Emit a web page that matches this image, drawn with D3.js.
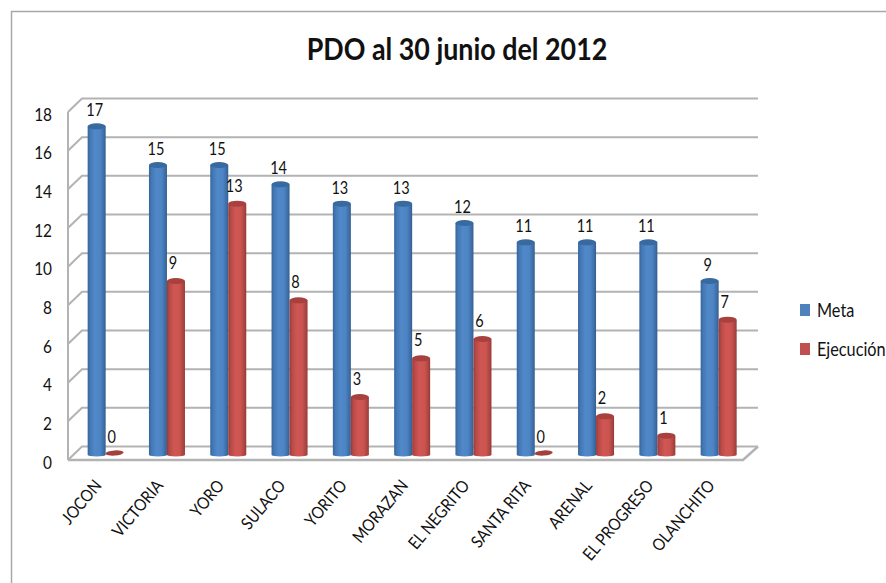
<!DOCTYPE html>
<html><head><meta charset="utf-8">
<script src="https://cdn.jsdelivr.net/npm/d3@7"></script>
<style>html,body{margin:0;padding:0;background:#fff;overflow:hidden}svg{display:block}text{font-family:Lato,"Open Sans",sans-serif;fill:#111}</style>
</head><body><svg id="c" width="886" height="583"></svg>
<script>
const titleText = "PDO al 30 junio del 2012";
const categories = ["JOCON","VICTORIA","YORO","SULACO","YORITO","MORAZAN","EL NEGRITO","SANTA RITA","ARENAL","EL PROGRESO","OLANCHITO"];
const meta = [17,15,15,14,13,13,12,11,11,11,9];
const ejecucion = [0,9,13,8,3,5,6,0,2,1,7];
const yTicks = [0,2,4,6,8,10,12,14,16,18];
const seriesNames = ["Meta","Ejecución"];
const seriesColors = ["#4f81bd","#c0504d"];

const svg = d3.select("#c");
const depthX = 14, depthY = 13.5, barW = 18, barInset = 5, narrow = 0.88;
const x = d3.scaleBand().domain(categories).range([75, 749.3]);
const y = d3.scaleLinear().domain([0,18]).range([460,112]);
const defs = svg.append("defs");
function grad(id, stops){
  const g = defs.append("linearGradient").attr("id",id);
  stops.forEach(s=>g.append("stop").attr("offset",s[0]).attr("stop-color",s[1]));
}
grad("gb",[[0,"#34659d"],[.14,"#4478b4"],[.4,"#5188c9"],[.7,"#4d84c4"],[.92,"#3c6ba2"],[1,"#315b8c"]]);
grad("gr",[[0,"#96393a"],[.14,"#b84a47"],[.4,"#cf5653"],[.7,"#cb5451"],[.92,"#a84340"],[1,"#923633"]]);

// narrow text, as Calibri is narrower than Lato
function label(g,px,py,str,size,anchor,opts={}){
  const rot = opts.rotate ? ` rotate(${opts.rotate})` : "";
  return g.append("text")
    .attr("transform",`translate(${px},${py})${rot} scale(${opts.sx||narrow},1)`)
    .attr("text-anchor",anchor).attr("font-size",size)
    .attr("font-weight",opts.weight||400).text(str);
}

// frame
svg.append("path").attr("d","M11.5,583V11.5H886").attr("fill","none").attr("stroke","#a8a8a8").attr("stroke-width",1.5);

// walls
const grid = svg.append("g").attr("fill","none").attr("stroke","#b3b3b3").attr("stroke-width",2);
const X0 = 68, X1 = 743;
yTicks.forEach(t=>{
  const yy=y(t);
  grid.append("path").attr("d",`M${X0},${yy}L${X0+depthX},${yy-depthY}H${X1+depthX+1}`);
});
grid.append("path").attr("d",`M${X0},${y(0)}V${y(18)}`);
grid.append("path").attr("d",`M${X0},${y(0)}H${X1}L${X1+depthX+1},${y(0)-depthY}`).attr("stroke-width",2.5);

// y labels
const tickG = svg.append("g");
yTicks.forEach(t=>label(tickG,52,y(t)+8.5,t,17.5,"end"));

// bars
function cyl(g,cx0,v,fill,dark,top){
  const base=y(0)-barInset, rx=barW/2, ry=3;
  const yt = base-(y(0)-y(v));
  if(v===0){
    g.append("ellipse").attr("transform",`translate(${cx0+rx},${base-2}) rotate(-4)`)
      .attr("rx",rx).attr("ry",2.6).attr("fill",dark);
    return;
  }
  g.append("path").attr("d",`M${cx0},${yt}V${base}A${rx},1.5 0 0 0 ${cx0+barW},${base}V${yt}Z`).attr("fill",`url(#${fill})`);
  g.append("ellipse").attr("cx",cx0+rx).attr("cy",yt).attr("rx",rx).attr("ry",ry).attr("fill",top);
}
const bars = svg.append("g");
const labels = svg.append("g");
categories.forEach((c,i)=>{
  const left=x(c)+x.bandwidth()/2-barW;
  cyl(bars,left,meta[i],"gb","#2f5788","#38699f");
  cyl(bars,left+barW,ejecucion[i],"gr","#a33f3c","#a8403e");
  label(labels,left+barW/2-2,y(meta[i])-barInset-10,meta[i],16.5,"middle");
  label(labels,left+barW*1.5-3,y(ejecucion[i])-barInset-12,ejecucion[i],16.5,"middle");
});

// category labels
const catG = svg.append("g");
categories.forEach(c=>label(catG,x(c)+x.bandwidth()/2-3,486,c,17,"end",{rotate:-50}));

// title
label(svg,457,60,titleText,30,"middle",{weight:700,sx:0.895});

// legend
seriesNames.forEach((n,i)=>{
  const yy=310+i*39;
  svg.append("rect").attr("x",800).attr("y",yy-6).attr("width",10).attr("height",12).attr("fill",seriesColors[i]);
  label(svg,817,yy+6.5,n,18.5,"start");
});
</script></body></html>
